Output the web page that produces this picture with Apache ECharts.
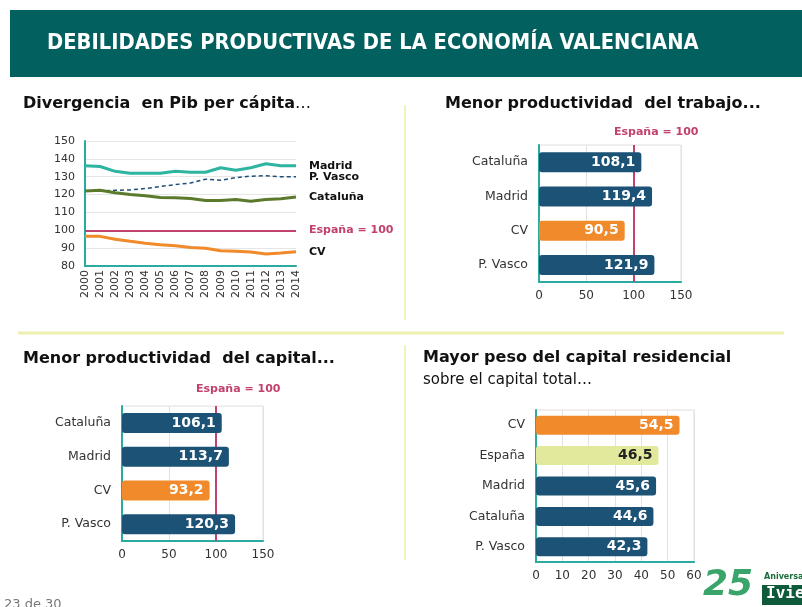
<!DOCTYPE html>
<html>
<head>
<meta charset="utf-8">
<script src="https://cdn.jsdelivr.net/npm/echarts@6/dist/echarts.min.js"></script>
<style>
  html, body { margin: 0; padding: 0; background: #fff; }
  #chart { width: 802px; height: 607px; }
</style>
</head>
<body>
<div id="chart"></div>
<script>
// line chart: PIB per capita, Espana = 100
const years = ['2000','2001','2002','2003','2004','2005','2006','2007','2008','2009','2010','2011','2012','2013','2014'];
const madrid   = [136.2, 135.7, 133, 132, 132, 132, 133, 132.5, 132.5, 135, 133.6, 135, 137.3, 136.2, 136.2];
const pvasco   = [122, 122, 122.4, 122.6, 123.4, 124.5, 125.6, 126.5, 128.6, 128, 129.5, 130.3, 130.6, 130, 130];
const cataluna = [122, 122.4, 121, 120, 119.3, 118.4, 118.2, 117.8, 116.7, 116.7, 117.2, 116.3, 117.2, 117.6, 118.7];
const cv       = [96.6, 96.6, 95, 93.8, 92.8, 91.9, 91.4, 90.4, 89.9, 88.6, 88.2, 87.8, 86.7, 87.3, 88];

// bar charts
const regionsProd = ['Cataluña', 'Madrid', 'CV', 'P. Vasco'];
const prodTrabajo = [108.1, 119.4, 90.5, 121.9];
const prodCapital = [106.1, 113.7, 93.2, 120.3];
const regionsRes  = ['CV', 'España', 'Madrid', 'Cataluña', 'P. Vasco'];
const pesoResid   = [54.5, 46.5, 45.6, 44.6, 42.3];

const TEAL = '#2aaaa0';
const BLUE = '#1b5275';
const ORANGE = '#f08a2a';
const PINK = '#c2416f';
const FONT = 'DejaVu Sans';

const colorFor = (name) => name === 'CV' ? ORANGE : (name === 'España' ? '#e2e89c' : BLUE);
const fmt = (v) => v.toFixed(1).replace('.', ',');

function barSeries(idx, cats, vals, width, withRef) {
  return {
    type: 'bar',
    xAxisIndex: idx, yAxisIndex: idx,
    barWidth: width,
    z: 3,
    data: vals.map((v, i) => ({
      value: v,
      itemStyle: { color: colorFor(cats[i]), borderRadius: 3 },
      label: { color: cats[i] === 'España' ? '#222' : '#fff' }
    })),
    label: {
      show: true, position: 'insideRight', distance: 6,
      fontFamily: FONT, fontWeight: 'bold', fontSize: 14,
      formatter: (p) => fmt(p.value)
    },
    // España = 100 reference, drawn behind the bars
    markLine: withRef ? {
      z: 1, silent: true, symbol: 'none',
      lineStyle: { color: PINK, width: 2, type: 'solid' },
      label: { show: false },
      data: [{ xAxis: 100 }]
    } : undefined
  };
}

function valueAxis(idx, max, interval) {
  return {
    type: 'value', gridIndex: idx, min: 0, max: max, interval: interval,
    axisLine: { show: true, lineStyle: { color: TEAL, width: 2 } },
    axisTick: { show: false },
    axisLabel: { color: '#333', fontSize: 12, fontFamily: FONT, margin: 8 },
    splitLine: { show: true, lineStyle: { color: '#e2e2e2' } }
  };
}

function catAxis(idx, cats) {
  return {
    type: 'category', gridIndex: idx, data: cats, inverse: true,
    axisLine: { show: true, lineStyle: { color: TEAL, width: 2 } },
    axisTick: { show: false },
    axisLabel: { color: '#333', fontSize: 12.5, fontFamily: FONT, margin: 11 }
  };
}

const lineLabel = (color) => ({
  show: true, distance: 13, color: color, fontFamily: FONT,
  fontWeight: 'bold', fontSize: 11, formatter: '{a}'
});

const frame = { show: true, borderColor: '#dedede', borderWidth: 1 };

const chart = echarts.init(document.getElementById('chart'), null, { renderer: 'canvas' });

chart.setOption({
  animation: false,
  backgroundColor: '#fff',
  textStyle: { fontFamily: FONT },
  grid: [
    { left: 85, top: 141, width: 211, height: 125 },
    Object.assign({ left: 539, top: 145, width: 142, height: 137 }, frame),
    Object.assign({ left: 122, top: 406, width: 141, height: 135 }, frame),
    Object.assign({ left: 536, top: 410, width: 158, height: 152 }, frame)
  ],
  xAxis: [
    {
      type: 'category', gridIndex: 0, data: years, boundaryGap: false,
      axisLine: { show: true, lineStyle: { color: TEAL, width: 2 } },
      axisTick: { show: false },
      axisLabel: { rotate: 90, color: '#333', fontSize: 11, fontFamily: FONT, margin: 4, interval: 0 }
    },
    valueAxis(1, 150, 50),
    valueAxis(2, 150, 50),
    valueAxis(3, 60, 10)
  ],
  yAxis: [
    {
      type: 'value', gridIndex: 0, min: 80, max: 150, interval: 10,
      axisLine: { show: true, lineStyle: { color: TEAL, width: 2 } },
      axisTick: { show: false },
      axisLabel: { color: '#333', fontSize: 11, fontFamily: FONT, margin: 10 },
      splitLine: { lineStyle: { color: '#e6e6e6' } }
    },
    catAxis(1, regionsProd),
    catAxis(2, regionsProd),
    catAxis(3, regionsRes)
  ],
  series: [
    {
      name: 'Madrid', type: 'line', data: madrid, showSymbol: false,
      lineStyle: { color: '#2db5a2', width: 3 }, itemStyle: { color: '#2db5a2' },
      endLabel: lineLabel('#111')
    },
    {
      name: 'P. Vasco', type: 'line', data: pvasco, showSymbol: false,
      lineStyle: { color: '#1f4f78', width: 1.5, type: [4, 3] }, itemStyle: { color: '#1f4f78' },
      endLabel: lineLabel('#111')
    },
    {
      name: 'Cataluña', type: 'line', data: cataluna, showSymbol: false,
      lineStyle: { color: '#5b7a2c', width: 3 }, itemStyle: { color: '#5b7a2c' },
      endLabel: lineLabel('#111'),
      markLine: {
        silent: true, symbol: 'none',
        lineStyle: { color: PINK, width: 2, type: 'solid' },
        label: {
          show: true, position: 'end', distance: 13, formatter: 'España = 100',
          color: PINK, fontWeight: 'bold', fontSize: 11, fontFamily: FONT
        },
        data: [{ yAxis: 100 }]
      }
    },
    {
      name: 'CV', type: 'line', data: cv, showSymbol: false,
      lineStyle: { color: ORANGE, width: 3 }, itemStyle: { color: ORANGE },
      endLabel: lineLabel('#111')
    },
    barSeries(1, regionsProd, prodTrabajo, 20, true),
    barSeries(2, regionsProd, prodCapital, 20, true),
    barSeries(3, regionsRes, pesoResid, 19, false)
  ],
  graphic: [
    // header band
    { type: 'rect', left: 10, top: 10, shape: { width: 792, height: 67 }, style: { fill: '#02615f' }, silent: true },
    {
      type: 'text', x: 47, y: 44, scaleX: 0.93,
      style: {
        text: 'DEBILIDADES PRODUCTIVAS DE LA ECONOMÍA VALENCIANA',
        fill: '#fff', font: 'bold 21px "DejaVu Sans"', textVerticalAlign: 'middle'
      }
    },
    // separators
    { type: 'line', shape: { x1: 18, y1: 333, x2: 784, y2: 333 }, style: { stroke: '#eef0b0', lineWidth: 3 } },
    { type: 'line', shape: { x1: 405, y1: 105, x2: 405, y2: 320 }, style: { stroke: '#f0f3bd', lineWidth: 2 } },
    { type: 'line', shape: { x1: 405, y1: 345, x2: 405, y2: 560 }, style: { stroke: '#f0f3bd', lineWidth: 2 } },
    // panel titles
    {
      type: 'text', left: 23, top: 96,
      style: {
        text: '{b|Divergencia  en Pib per cápita}{n|…}',
        rich: {
          b: { font: 'bold 16px "DejaVu Sans"', fill: '#111' },
          n: { font: '16px "DejaVu Sans"', fill: '#111' }
        }
      }
    },
    { type: 'text', left: 445, top: 96, style: { text: 'Menor productividad  del trabajo...', font: 'bold 16px "DejaVu Sans"', fill: '#111' } },
    { type: 'text', left: 23, top: 351, style: { text: 'Menor productividad  del capital...', font: 'bold 16px "DejaVu Sans"', fill: '#111' } },
    { type: 'text', left: 423, top: 350, style: { text: 'Mayor peso del capital residencial', font: 'bold 16px "DejaVu Sans"', fill: '#111' } },
    { type: 'text', left: 423, top: 373, style: { text: 'sobre el capital total…', font: '15px "DejaVu Sans"', fill: '#111' } },
    // reference labels for bar panels
    { type: 'text', left: 614, top: 127, style: { text: 'España = 100', font: 'bold 11px "DejaVu Sans"', fill: PINK } },
    { type: 'text', left: 196, top: 384, style: { text: 'España = 100', font: 'bold 11px "DejaVu Sans"', fill: PINK } },
    // page number
    { type: 'text', left: 4, top: 598, style: { text: '23 de 30', font: '13px "DejaVu Sans"', fill: '#777' } },
    // logo
    { type: 'text', left: 703, top: 568, style: { text: '25', font: 'italic bold 36px "DejaVu Sans"', fill: '#3aa56a' } },
    { type: 'text', left: 764, top: 573, style: { text: 'Aniversario', font: 'bold 8px "DejaVu Sans"', fill: '#1c6b3c' } },
    { type: 'rect', left: 762, top: 585, shape: { width: 40, height: 20 }, style: { fill: '#0f5a3a' } },
    { type: 'text', left: 766, top: 586, style: { text: 'Ivie', font: 'bold 16px "DejaVu Sans Mono"', fill: '#fff' } }
  ]
});
</script>
</body>
</html>
